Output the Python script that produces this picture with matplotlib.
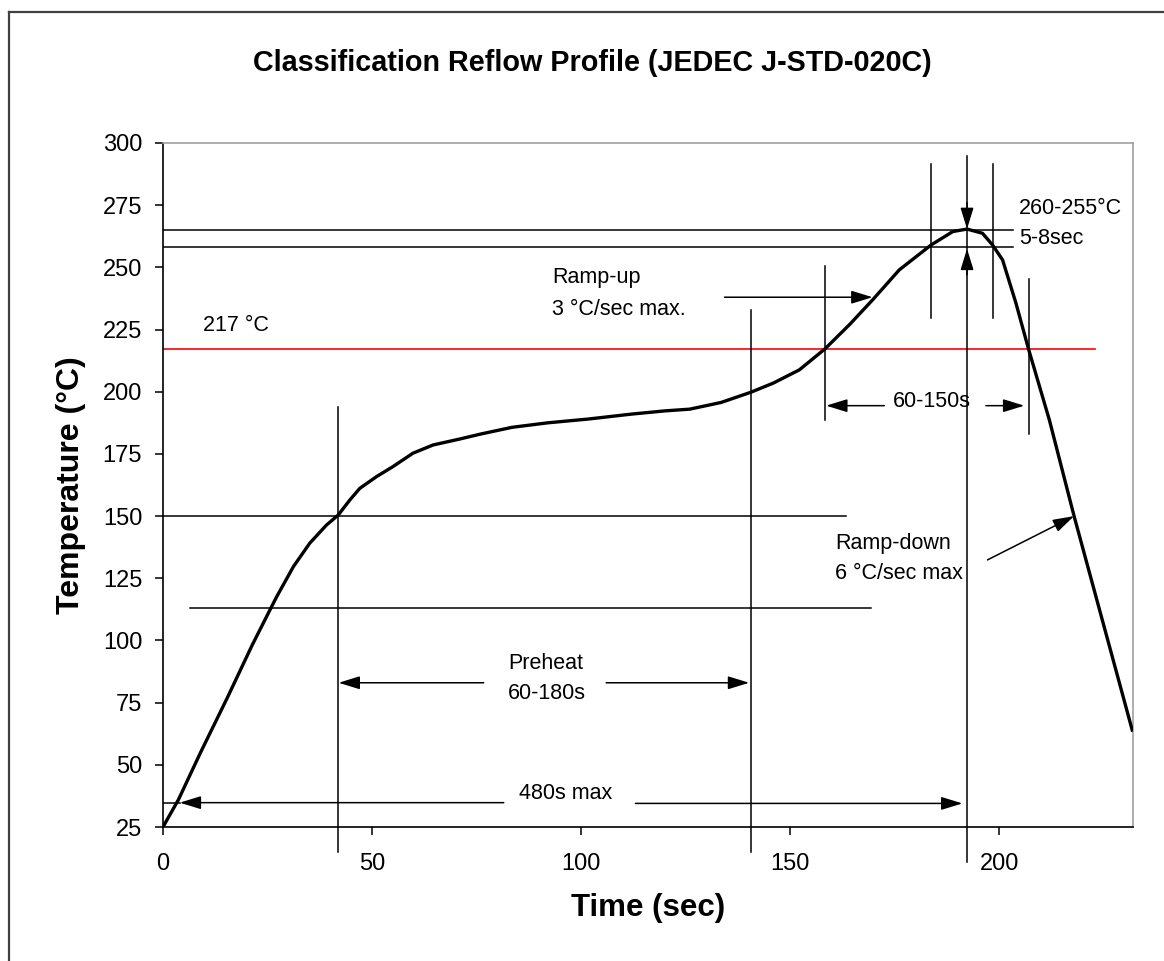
import matplotlib
matplotlib.use("Agg")
import matplotlib.pyplot as plt
from matplotlib.lines import Line2D

plt.rcParams['font.family'] = ['Liberation Sans', 'DejaVu Sans']

# reflow profile
time_s = [0, 3.7, 9, 15.4, 21.3, 25.5, 27.2, 31.2, 35.1, 39.1, 41.9, 44.7, 47.1,
          51.1, 55, 59.8, 64.6, 71, 76, 83.5, 92, 101.6, 112, 120, 126, 133.5,
          140.6, 146, 152.2, 158.3, 164.2, 169.7, 176.1, 183.7, 188.9, 192.3,
          196, 198.4, 200.8, 204, 207, 212, 217.9, 231.8]
temp_c = [25, 36, 55, 77, 98, 112, 117.6, 129.7, 139.1, 146.4, 150.4, 156.5,
          161.2, 165.9, 169.9, 175.3, 178.6, 181, 183, 185.7, 187.5, 189, 191,
          192.3, 193, 195.7, 199.8, 203.5, 208.8, 217.2, 227, 236.9, 249, 259,
          264.4, 265.4, 263.7, 259, 253, 235.6, 217.2, 188.6, 150, 64]

x_ticks = [0, 50, 100, 150, 200]
y_ticks = [25, 50, 75, 100, 125, 150, 175, 200, 225, 250, 275, 300]

# guide lines: (y, x_start, x_end)
h_guides = [(150, 0, 163.4), (113, 6.5, 169.4), (265, 0, 203.2), (258, 0, 203.2)]
liquidus = 217
# vertical guides: (x, y_start, y_end)
v_guides = [(41.8, 15, 194), (140.6, 15, 233), (158.3, 188.6, 250.6),
            (183.6, 229.8, 291.6), (192.3, 11, 294.8), (198.4, 229.8, 291.6),
            (207, 183, 245.3)]

fig = plt.figure(figsize=(11.64, 9.61), dpi=100)
ax = fig.add_axes([0.140, 0.1394, 0.8334, 0.7118])

# outer frame (image is cropped, only top and left edges show)
fig.add_artist(Line2D([9/1164, 9/1164], [0, 1 - 12/961], color='#404040', lw=1.6,
                      transform=fig.transFigure))
fig.add_artist(Line2D([9/1164, 1], [1 - 12/961, 1 - 12/961], color='#404040', lw=1.6,
                      transform=fig.transFigure))

ax.plot(time_s, temp_c, color='black', lw=2.4, zorder=5, solid_joinstyle='round')

for y, x0, x1 in h_guides:
    ax.plot([x0, x1], [y, y], color='black', lw=1.1)
ax.plot([0, 223], [liquidus, liquidus], color='#ff0000', lw=1.2)
for x, y0, y1 in v_guides:
    ax.plot([x, x], [y0, y1], color='black', lw=1.1, clip_on=False)

arrow = dict(arrowstyle='-|>,head_length=0.65,head_width=0.2', color='black',
             lw=1.1, shrinkA=0, shrinkB=0, mutation_scale=20)


def arr(x0, y0, x1, y1):
    ax.annotate('', xy=(x1, y1), xytext=(x0, y0), arrowprops=arrow,
                annotation_clip=False)


fs = 15.5
# 480s max
ax.plot([0, 4], [34.8, 34.8], color='black', lw=1.1)
arr(81.5, 34.8, 4, 34.8)
arr(113, 34.5, 191.2, 34.5)
ax.text(96.3, 38.5, '480s max', fontsize=fs, ha='center', va='center')

# preheat
arr(76.7, 83, 42, 83)
arr(106, 83, 140.2, 83)
ax.text(82.5, 90.6, 'Preheat', fontsize=fs, ha='left', va='center')
ax.text(82.5, 78.6, '60-180s', fontsize=fs, ha='left', va='center')

# time above liquidus
arr(172.5, 194.4, 158.6, 194.4)
arr(196.8, 194.4, 206, 194.4)
ax.text(184, 196, '60-150s', fontsize=fs, ha='center', va='center')

# ramp up / down
arr(134.3, 238, 169.7, 238)
ax.text(93, 246, 'Ramp-up', fontsize=fs, ha='left', va='center')
ax.text(93, 233, '3 °C/sec max.', fontsize=fs, ha='left', va='center')
arr(197.2, 132.4, 217.9, 150)
ax.text(160.8, 139, 'Ramp-down', fontsize=fs, ha='left', va='center')
ax.text(160.8, 127, '6 °C/sec max', fontsize=fs, ha='left', va='center')

# peak
arr(192.3, 276, 192.3, 265.4)
arr(192.3, 247, 192.3, 257.5)
ax.text(204.8, 273.5, '260-255°C', fontsize=fs, ha='left', va='center')
ax.text(204.8, 261.8, '5-8sec', fontsize=fs, ha='left', va='center')

ax.text(9.6, 226.5, '217 °C', fontsize=fs, ha='left', va='center')

ax.set_xlim(0, 232)
ax.set_ylim(25, 300)
ax.set_xticks(x_ticks)
ax.set_yticks(y_ticks)
ax.tick_params(axis='both', direction='out', length=6, width=1.1, labelsize=17,
               color='black', pad=9)
ax.tick_params(axis='x', pad=13)
for side in ('left', 'bottom'):
    ax.spines[side].set_color('black')
    ax.spines[side].set_linewidth(1.2)
for side in ('top', 'right'):
    ax.spines[side].set_color('#a0a0a0')
    ax.spines[side].set_linewidth(1.2)

ax.set_xlabel('Time (sec)', fontsize=22.5, fontweight='bold', labelpad=13)
ax.set_ylabel('Temperature (°C)', fontsize=23, fontweight='bold', labelpad=12)
fig.text(0.509, 1 - 63/961, 'Classification Reflow Profile (JEDEC J-STD-020C)',
         fontsize=20.7, fontweight='bold', ha='center', va='center')

fig.savefig('out.png', dpi=100)
